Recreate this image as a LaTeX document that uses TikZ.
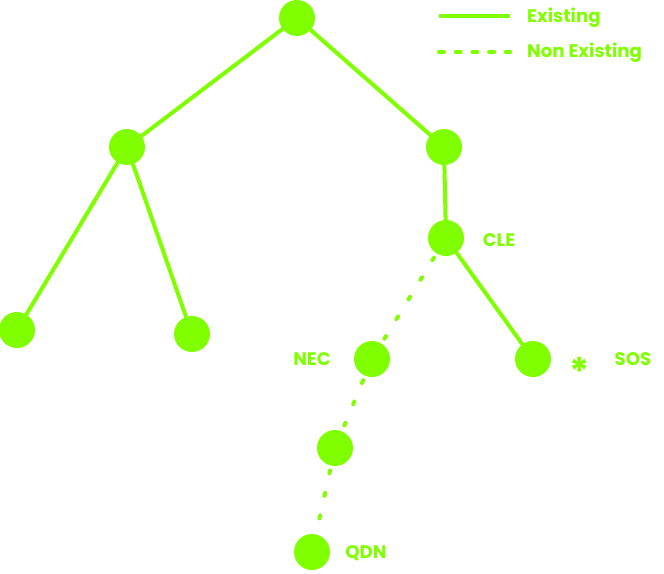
\documentclass[tikz,border=0pt]{standalone}
\usepackage{fontspec}
\setmainfont{Poppins}
\usetikzlibrary{backgrounds}
\definecolor{lime}{HTML}{80FF00}
\begin{document}
\begin{tikzpicture}[x=1pt,y=-1pt,
  vertex/.style={circle,fill=lime,draw=none,minimum size=36pt,inner sep=0pt},
  label/.style={text=lime,font=\bfseries\fontsize{18.2}{18.2}\selectfont,inner sep=0pt,anchor=center},
  edge/.style={draw=lime,line width=4pt},
  missing/.style={draw=lime,line width=4pt,line cap=round,dash pattern=on 3pt off 20pt},
  legdash/.style={draw=lime,line width=4pt,line cap=round,dash pattern=on 5pt off 11.7pt}]
\useasboundingbox (0,0) rectangle (664,573);

% tree vertices
\node[vertex] (root) at (297,18) {};
\node[vertex] (a) at (127,147) {};
\node[vertex] (b) at (444,147) {};
\node[vertex] (cle) at (446,238) {};
\node[vertex] (aa) at (17,330) {};
\node[vertex] (ab) at (192,334) {};
\node[vertex] (nec) at (372,359) {};
\node[vertex] (sos) at (533,359) {};
\node[vertex] (c) at (335,448) {};
\node[vertex] (qdn) at (312,552) {};

% connections, kept behind the vertices
\begin{scope}[on background layer]
  \draw[edge] (root.center) -- (a.center);
  \draw[edge] (root.center) -- (b.center);
  \draw[edge] (a.center) -- (aa.center);
  \draw[edge] (a.center) -- (ab.center);
  \draw[edge] (b.center) -- (cle.center);
  \draw[edge] (cle.center) -- (sos.center);
  \draw[missing] (cle.center) -- (nec.center);
  \draw[missing] (nec.center) -- (c.center);
  \draw[missing] (c.center) -- (qdn.center);
\end{scope}

% labels
\node[label] (tcle) at (499,240) {CLE};
\node[label] (tnec) at (312,359) {NEC};
\node[label] (tsos) at (633,359) {SOS};
\node[label] (tqdn) at (366,553) {QDN};
\node[text=lime,font=\bfseries\fontsize{38}{38}\selectfont,inner sep=0pt] (star) at (580,371) {*};

% legend
\coordinate (l1a) at (439,16);
\coordinate (l1b) at (510,16);
\coordinate (l2a) at (439,52);
\coordinate (l2b) at (510,52);
\node[label,anchor=west] (lex) at (527,18) {Existing};
\node[label,anchor=west] (lnon) at (527,53) {Non Existing};
\draw[edge] (l1a) -- (l1b);
\draw[legdash] (l2a) -- (l2b);
\end{tikzpicture}
\end{document}
